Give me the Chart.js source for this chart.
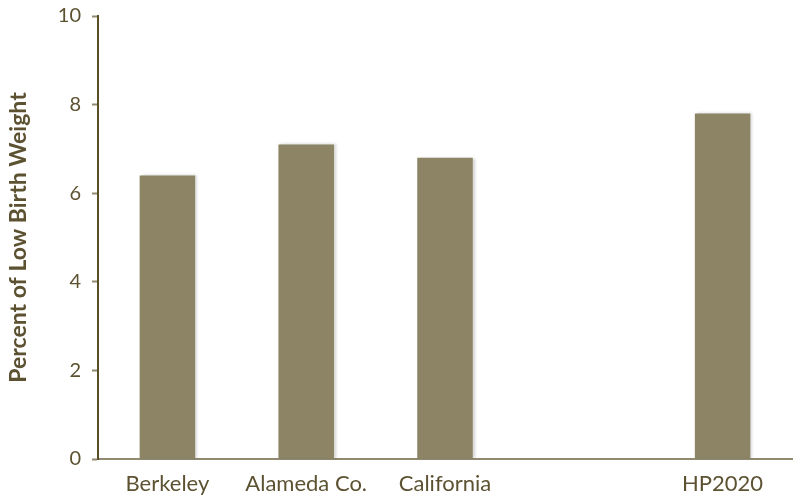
<!DOCTYPE html>
<html>
<head>
<meta charset="utf-8">
<script src="https://cdn.jsdelivr.net/npm/chart.js@4"></script>
<style>
  html, body { margin: 0; padding: 0; background: #fff; }
  #wrap { width: 796px; height: 496px; position: relative; }
</style>
</head>
<body>
<div id="wrap"><canvas id="lbwChart"></canvas></div>
<script>
// categories (blank slot keeps the gap before HP2020)
const categories = ["Berkeley", "Alameda Co.", "California", "", "HP2020"];
const lowBirthWeight = [6.4, 7.1, 6.8, null, 7.8];
const yTicks = [0, 2, 4, 6, 8, 10];

const textColor = "#5c5232";
const barColor = "#8c8464";

// soft shadow on the right of each bar
const barShadow = {
    id: "barShadow",
    beforeDatasetsDraw(chart) {
        const ctx = chart.ctx;
        ctx.save();
        ctx.shadowColor = "rgba(0,0,0,0.18)";
        ctx.shadowBlur = 3;
        ctx.shadowOffsetX = 2;
    },
    afterDatasetsDraw(chart) {
        chart.ctx.restore();
    }
};

new Chart(document.getElementById("lbwChart"), {
    type: "bar",
    data: {
        labels: categories,
        datasets: [{
            data: lowBirthWeight,
            backgroundColor: barColor,
            categoryPercentage: 1,
            barPercentage: 0.4
        }]
    },
    options: {
        responsive: true,
        maintainAspectRatio: false,
        animation: false,
        layout: { padding: { top: 12, right: 4, left: 0, bottom: 0 } },
        plugins: {
            legend: { display: false },
            tooltip: { enabled: false }
        },
        scales: {
            x: {
                grid: { display: false },
                border: { color: "#8f8a70", width: 2 },
                ticks: {
                    color: textColor,
                    font: { family: "Lato", size: 22 },
                    padding: 4,
                    maxRotation: 0
                },
                afterFit: s => { s.height = 37; }
            },
            y: {
                min: 0,
                max: 10,
                afterBuildTicks: s => { s.ticks = yTicks.map(v => ({ value: v })); },
                grid: {
                    drawOnChartArea: false,
                    tickLength: 6,
                    color: "#8f8a70",
                    tickWidth: 2
                },
                border: { color: "#5a4f24", width: 2 },
                ticks: {
                    color: textColor,
                    font: { family: "Lato", size: 20, lineHeight: 0.5 },
                    padding: 11
                },
                title: {
                    display: true,
                    text: "Percent of Low Birth Weight",
                    color: textColor,
                    font: { family: "Lato", size: 23, weight: "bold" },
                    padding: { top: 5, bottom: 0 }
                },
                afterFit: s => { s.width = 98; }
            }
        }
    },
    plugins: [barShadow]
});
</script>
</body>
</html>
